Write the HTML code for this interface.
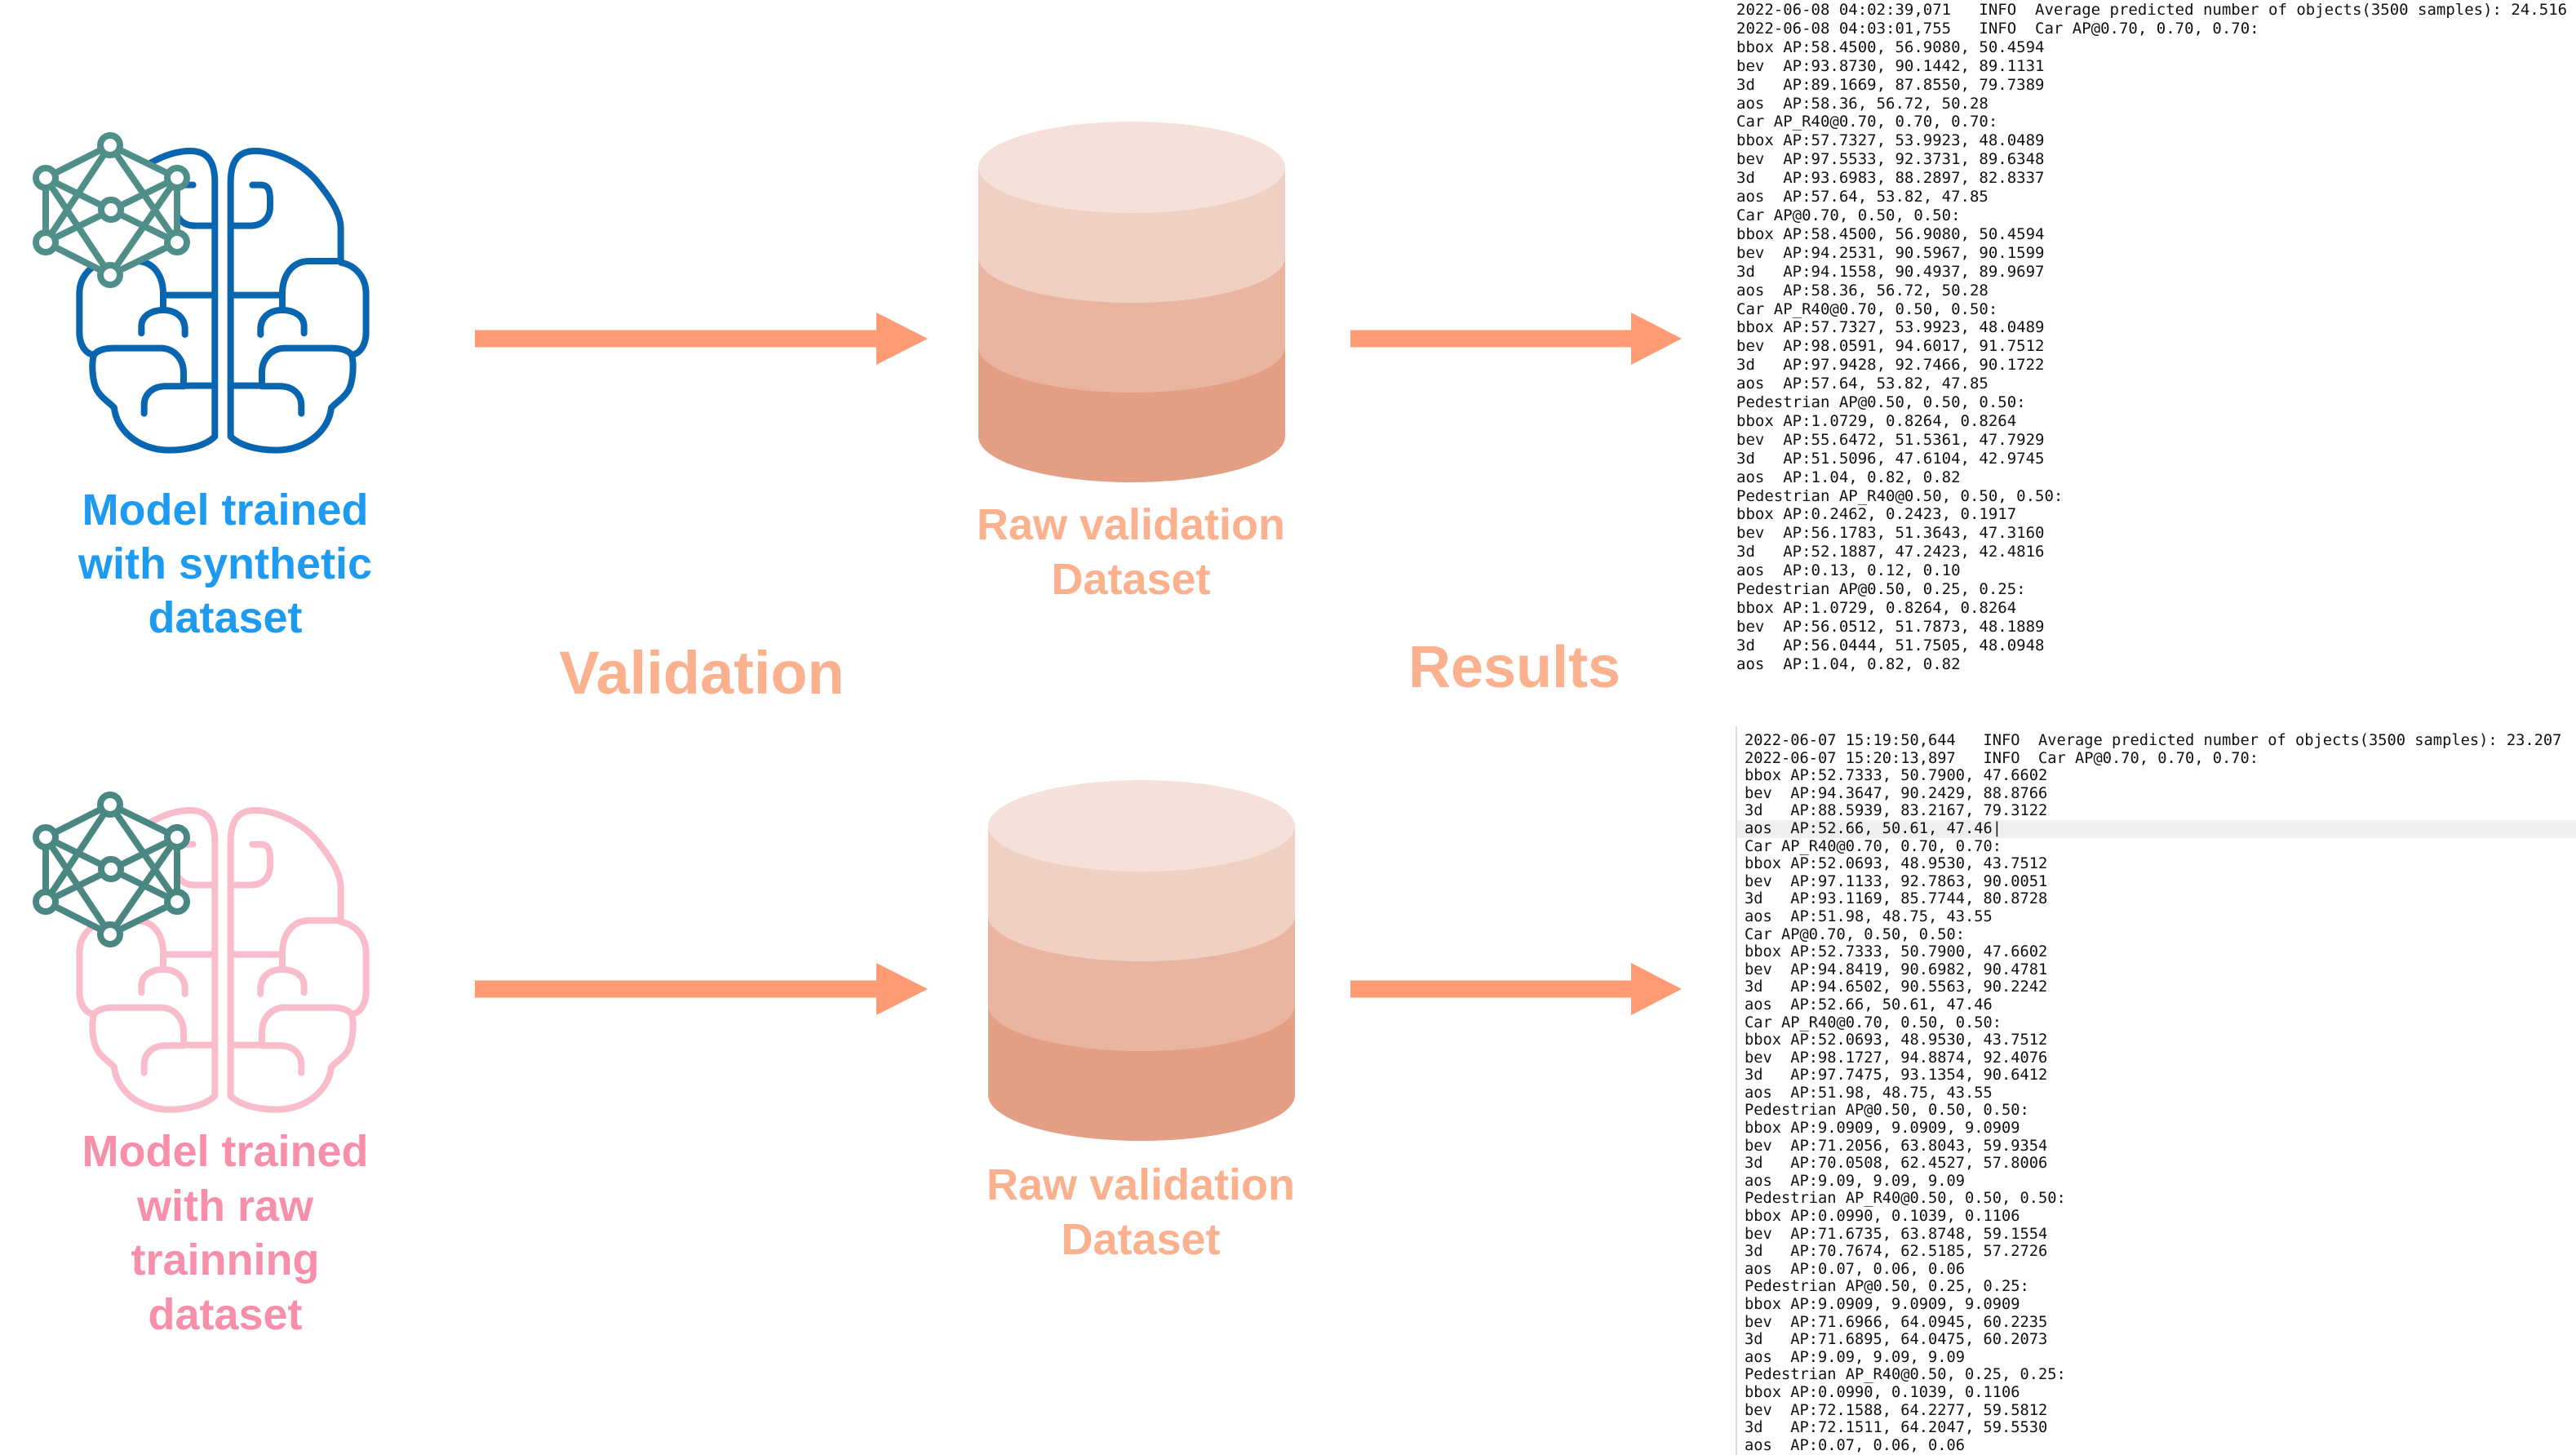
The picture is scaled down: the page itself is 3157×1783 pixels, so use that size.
<!DOCTYPE html>
<html><head><meta charset="utf-8"><style>
html,body{margin:0;padding:0;background:#fff;}
body{width:3157px;height:1783px;position:relative;overflow:hidden;font-family:"Liberation Sans",sans-serif;}
.abs{position:absolute;}
.log{position:absolute;margin:0;font-family:"DejaVu Sans Mono","Liberation Mono",monospace;color:#111;white-space:pre;}
.t{position:absolute;font-weight:bold;text-align:center;white-space:nowrap;}
</style></head><body>

<svg class="abs" style="left:0;top:0" width="3157" height="1783" viewBox="0 0 3157 1783">
<defs>
<g id="brain">
 <path d="M790,1185 L790,250 C790,170 760,135 700,135 C620,135 520,185 470,250 C430,300 385,360 385,420 L385,545 C330,555 292,600 292,660 L292,800 C292,850 315,880 345,885 C335,920 340,990 360,1020 C380,1050 410,1065 420,1080 C430,1170 520,1235 620,1235 C700,1235 760,1215 790,1185 Z"/>
 <path d="M710,260 L680,260 C640,260 645,300 645,340 C645,380 670,410 720,410 L790,410"/>
 <path d="M385,540 L500,540 C570,540 600,600 600,660 L600,715 M600,665 L790,665"/>
 <path d="M520,805 L520,780 C520,740 560,720 600,720 C650,720 680,750 680,790 L680,810"/>
 <path d="M345,885 C360,865 390,860 420,860 L590,860 C640,860 675,900 675,950 L675,1000 M675,998 L790,998"/>
 <path d="M530,1100 L530,1070 C530,1030 560,1000 610,1000 L675,1000"/>
</g>
<g id="net">
 <path d="M135,178 L56,218 L56,297 L135,337 L217,297 L217,218 Z M135,178 L56,297 M135,178 L217,297 M135,337 L56,218 M135,337 L217,218 M56,218 L217,297 M217,218 L56,297"/>
 <circle cx="135" cy="178" r="12"/><circle cx="56" cy="218" r="12"/><circle cx="217" cy="218" r="12"/>
 <circle cx="136" cy="257" r="12"/><circle cx="56" cy="297" r="12"/><circle cx="217" cy="297" r="12"/><circle cx="135" cy="337" r="12"/>
</g>
<g id="cyl">
 <rect x="-188" y="220" width="376" height="110" fill="#e39e84"/>
 <ellipse cx="0" cy="330" rx="188" ry="56" fill="#e39e84"/>
 <rect x="-188" y="110" width="376" height="110" fill="#e9b5a0"/>
 <ellipse cx="0" cy="220" rx="188" ry="56" fill="#e9b5a0"/>
 <rect x="-188" y="0" width="376" height="110" fill="#f0d0c3"/>
 <ellipse cx="0" cy="110" rx="188" ry="56" fill="#f0d0c3"/>
 <ellipse cx="0" cy="0" rx="188" ry="56" fill="#f5e1d9"/>
</g>
<path id="arrow" d="M0,-10.5 L492,-10.5 L492,-32 L555,0 L492,32 L492,10.5 L0,10.5 Z"/>
<path id="arrow2" d="M0,-10.5 L344,-10.5 L344,-32 L406,0 L344,32 L344,10.5 L0,10.5 Z"/>
</defs>

<g transform="translate(0,140) scale(0.3333)" fill="none" stroke="#0866b1" stroke-width="24" stroke-linecap="round" stroke-linejoin="round">
 <use href="#brain"/><use href="#brain" transform="translate(1638,0) scale(-1,1)"/>
</g>
<g fill="#fff" stroke="#4f8e89" stroke-width="8" stroke-linejoin="round"><use href="#net"/></g>

<g transform="translate(0,948) scale(0.3333)" fill="none" stroke="#f9bccb" stroke-width="24" stroke-linecap="round" stroke-linejoin="round">
 <use href="#brain"/><use href="#brain" transform="translate(1638,0) scale(-1,1)"/>
</g>
<g transform="translate(0,808)" fill="#fff" stroke="#4a8783" stroke-width="8" stroke-linejoin="round"><use href="#net"/></g>

<g fill="#ff9b74">
 <use href="#arrow" transform="translate(582,415)"/>
 <use href="#arrow2" transform="translate(1655,415)"/>
 <use href="#arrow" transform="translate(582,1212)"/>
 <use href="#arrow2" transform="translate(1655,1212)"/>
</g>

<use href="#cyl" transform="translate(1387,205)"/>
<use href="#cyl" transform="translate(1399,1012)"/>

<rect x="2128" y="1005" width="1029" height="22" fill="#efefef"/>
<line x1="2128" y1="890" x2="2128" y2="1783" stroke="#dcdcdc" stroke-width="2"/>
</svg>

<div class="t" style="left:76px;width:400px;top:592px;font-size:54px;line-height:66px;color:#1e9bf0;">Model trained<br>with synthetic<br>dataset</div>
<div class="t" style="left:76px;width:400px;top:1378px;font-size:54px;line-height:66.5px;color:#f78fab;">Model trained<br>with raw<br>trainning<br>dataset</div>

<div class="t" style="left:1186px;width:400px;top:610px;font-size:54px;line-height:67px;color:#fbb08e;">Raw validation<br>Dataset</div>
<div class="t" style="left:1198px;width:400px;top:1419px;font-size:54px;line-height:67px;color:#fbb08e;">Raw validation<br>Dataset</div>

<div class="t" style="left:660px;width:400px;top:783px;font-size:74px;line-height:84px;color:#fbb08e;">Validation</div>
<div class="t" style="left:1656px;width:400px;top:776px;font-size:72px;line-height:84px;color:#fbb08e;">Results</div>

<pre class="log" style="left:2128px;top:1px;font-size:19px;line-height:22.9px;">2022-06-08 04:02:39,071   INFO  Average predicted number of objects(3500 samples): 24.516
2022-06-08 04:03:01,755   INFO  Car AP@0.70, 0.70, 0.70:
bbox AP:58.4500, 56.9080, 50.4594
bev  AP:93.8730, 90.1442, 89.1131
3d   AP:89.1669, 87.8550, 79.7389
aos  AP:58.36, 56.72, 50.28
Car AP_R40@0.70, 0.70, 0.70:
bbox AP:57.7327, 53.9923, 48.0489
bev  AP:97.5533, 92.3731, 89.6348
3d   AP:93.6983, 88.2897, 82.8337
aos  AP:57.64, 53.82, 47.85
Car AP@0.70, 0.50, 0.50:
bbox AP:58.4500, 56.9080, 50.4594
bev  AP:94.2531, 90.5967, 90.1599
3d   AP:94.1558, 90.4937, 89.9697
aos  AP:58.36, 56.72, 50.28
Car AP_R40@0.70, 0.50, 0.50:
bbox AP:57.7327, 53.9923, 48.0489
bev  AP:98.0591, 94.6017, 91.7512
3d   AP:97.9428, 92.7466, 90.1722
aos  AP:57.64, 53.82, 47.85
Pedestrian AP@0.50, 0.50, 0.50:
bbox AP:1.0729, 0.8264, 0.8264
bev  AP:55.6472, 51.5361, 47.7929
3d   AP:51.5096, 47.6104, 42.9745
aos  AP:1.04, 0.82, 0.82
Pedestrian AP_R40@0.50, 0.50, 0.50:
bbox AP:0.2462, 0.2423, 0.1917
bev  AP:56.1783, 51.3643, 47.3160
3d   AP:52.1887, 47.2423, 42.4816
aos  AP:0.13, 0.12, 0.10
Pedestrian AP@0.50, 0.25, 0.25:
bbox AP:1.0729, 0.8264, 0.8264
bev  AP:56.0512, 51.7873, 48.1889
3d   AP:56.0444, 51.7505, 48.0948
aos  AP:1.04, 0.82, 0.82</pre>

<pre class="log" style="left:2138px;top:897px;font-size:18.7px;line-height:21.6px;">2022-06-07 15:19:50,644   INFO  Average predicted number of objects(3500 samples): 23.207
2022-06-07 15:20:13,897   INFO  Car AP@0.70, 0.70, 0.70:
bbox AP:52.7333, 50.7900, 47.6602
bev  AP:94.3647, 90.2429, 88.8766
3d   AP:88.5939, 83.2167, 79.3122
aos  AP:52.66, 50.61, 47.46|
Car AP_R40@0.70, 0.70, 0.70:
bbox AP:52.0693, 48.9530, 43.7512
bev  AP:97.1133, 92.7863, 90.0051
3d   AP:93.1169, 85.7744, 80.8728
aos  AP:51.98, 48.75, 43.55
Car AP@0.70, 0.50, 0.50:
bbox AP:52.7333, 50.7900, 47.6602
bev  AP:94.8419, 90.6982, 90.4781
3d   AP:94.6502, 90.5563, 90.2242
aos  AP:52.66, 50.61, 47.46
Car AP_R40@0.70, 0.50, 0.50:
bbox AP:52.0693, 48.9530, 43.7512
bev  AP:98.1727, 94.8874, 92.4076
3d   AP:97.7475, 93.1354, 90.6412
aos  AP:51.98, 48.75, 43.55
Pedestrian AP@0.50, 0.50, 0.50:
bbox AP:9.0909, 9.0909, 9.0909
bev  AP:71.2056, 63.8043, 59.9354
3d   AP:70.0508, 62.4527, 57.8006
aos  AP:9.09, 9.09, 9.09
Pedestrian AP_R40@0.50, 0.50, 0.50:
bbox AP:0.0990, 0.1039, 0.1106
bev  AP:71.6735, 63.8748, 59.1554
3d   AP:70.7674, 62.5185, 57.2726
aos  AP:0.07, 0.06, 0.06
Pedestrian AP@0.50, 0.25, 0.25:
bbox AP:9.0909, 9.0909, 9.0909
bev  AP:71.6966, 64.0945, 60.2235
3d   AP:71.6895, 64.0475, 60.2073
aos  AP:9.09, 9.09, 9.09
Pedestrian AP_R40@0.50, 0.25, 0.25:
bbox AP:0.0990, 0.1039, 0.1106
bev  AP:72.1588, 64.2277, 59.5812
3d   AP:72.1511, 64.2047, 59.5530
aos  AP:0.07, 0.06, 0.06</pre>

</body></html>
